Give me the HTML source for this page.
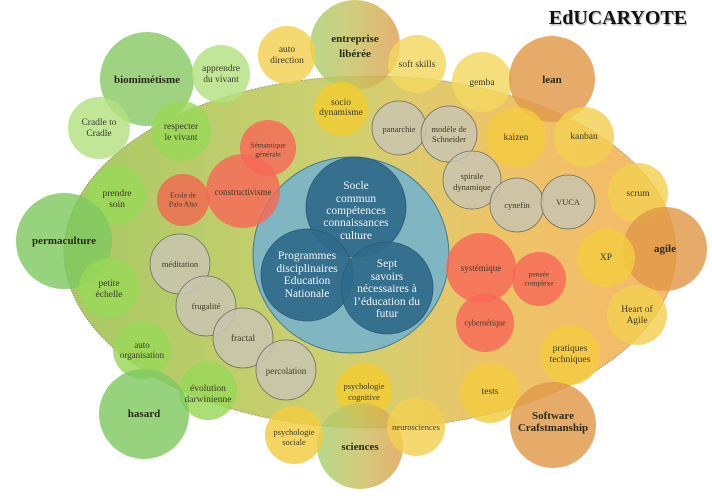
<!DOCTYPE html>
<html><head><meta charset="utf-8"><style>
html,body{margin:0;padding:0;background:#fff;}
svg{display:block;}
text{font-family:"Liberation Serif",serif;text-anchor:middle;dominant-baseline:central;}
</style></head><body>
<svg width="712" height="503" viewBox="0 0 712 503" xmlns="http://www.w3.org/2000/svg">
<defs>
<linearGradient id="bg" x1="0" x2="1" y1="0" y2="0">
<stop offset="0" stop-color="#a6c964"/><stop offset="0.45" stop-color="#cfd070"/><stop offset="0.7" stop-color="#edc468"/><stop offset="1" stop-color="#f5b86a"/></linearGradient>
<linearGradient id="go" x1="0" x2="1" y1="0" y2="0">
<stop offset="0" stop-color="#a8d070"/><stop offset="0.5" stop-color="#c8c060"/><stop offset="1" stop-color="#e0a050"/></linearGradient>
</defs>
<ellipse cx="370" cy="252" rx="306" ry="176" fill="url(#bg)" stroke="#a09a60" stroke-width="1" stroke-dasharray="1.5,1"/>
<circle cx="351" cy="255" r="98" fill="#7fb6c2" stroke="#4a7888" stroke-width="1"/>
<g fill="#2f6a8a" fill-opacity="0.92" stroke="#2a5a74" stroke-width="0.8">
<circle cx="356" cy="207" r="50"/><circle cx="307" cy="275" r="46"/><circle cx="387" cy="288" r="46"/></g>
<g fill="#eef2f4" font-size="11.5">
<text x="356" y="186">Socle</text><text x="356" y="199">commun</text><text x="356" y="211">compétences</text><text x="356" y="223">connaissances</text><text x="356" y="236">culture</text>
<text x="307" y="256">Programmes</text><text x="307" y="269">disciplinaires</text><text x="307" y="281">Education</text><text x="307" y="294">Nationale</text>
<text x="387" y="264">Sept</text><text x="387" y="277">savoirs</text><text x="387" y="289">nécessaires à</text><text x="387" y="302">l’éducation du</text><text x="387" y="314">futur</text>
</g>
<g fill-opacity="0.82">
<circle cx="355" cy="45" r="45" fill="url(#go)"/>
<circle cx="147" cy="79" r="47" fill="#8ac865"/>
<circle cx="221" cy="74" r="29" fill="#b4e080"/>
<circle cx="287" cy="55" r="29" fill="#f3d050"/>
<circle cx="417" cy="64" r="29" fill="#f3d860"/>
<circle cx="482" cy="82" r="30" fill="#f3d860"/>
<circle cx="552" cy="79" r="43" fill="#e09848"/>
<circle cx="99" cy="128" r="31" fill="#b4e080"/>
<circle cx="181" cy="131" r="30" fill="#98d858"/>
<circle cx="341" cy="109" r="27" fill="#f3cc30"/>
<circle cx="516" cy="137" r="30" fill="#f3cc40"/>
<circle cx="584" cy="137" r="30" fill="#f3d050"/>
<circle cx="268" cy="148" r="28" fill="#f86858"/>
<circle cx="243" cy="191" r="37" fill="#f86858"/>
<circle cx="183" cy="200" r="26" fill="#f06850"/>
<circle cx="117" cy="195" r="29" fill="#98d858"/>
<circle cx="638" cy="193" r="30" fill="#f3d050"/>
<circle cx="64" cy="241" r="48" fill="#80c860"/>
<circle cx="665" cy="249" r="42" fill="#e09848"/>
<circle cx="481" cy="268" r="35" fill="#f86858"/>
<circle cx="539" cy="279" r="27" fill="#f86858"/>
<circle cx="606" cy="258" r="29" fill="#f3cc40"/>
<circle cx="109" cy="288" r="30" fill="#98d858"/>
<circle cx="485" cy="323" r="29" fill="#f86858"/>
<circle cx="637" cy="315" r="30" fill="#f3d050"/>
<circle cx="142" cy="350" r="29" fill="#98d858"/>
<circle cx="570" cy="355" r="30" fill="#f3cc40"/>
<circle cx="364" cy="391" r="28" fill="#f3cc30"/>
<circle cx="208" cy="391" r="29" fill="#98d858"/>
<circle cx="490" cy="393" r="30" fill="#f3cc40"/>
<circle cx="144" cy="414" r="45" fill="#80c860"/>
<circle cx="553" cy="425" r="43" fill="#e09848"/>
<circle cx="360" cy="446" r="43" fill="url(#go)"/>
<circle cx="294" cy="435" r="29" fill="#f3cc40"/>
<circle cx="416" cy="427" r="29" fill="#f3d050"/>
</g>
<g fill="#c8c4b0" fill-opacity="0.85" stroke="#707060" stroke-width="0.8">
<circle cx="399" cy="128" r="27"/><circle cx="449" cy="134" r="28"/><circle cx="472" cy="180" r="29"/>
<circle cx="517" cy="205" r="27"/><circle cx="568" cy="202" r="27"/>
<circle cx="180" cy="264" r="30"/><circle cx="206" cy="306" r="30"/><circle cx="243" cy="338" r="30"/><circle cx="286" cy="370" r="30"/>
</g>
<g fill="#3a3a2a" font-size="9.5">
<text x="221" y="69">apprendre</text><text x="221" y="80">du vivant</text>
<text x="287" y="50">auto</text><text x="287" y="61">direction</text>
<text x="417" y="65">soft skills</text>
<text x="482" y="83">gemba</text>
<text x="99" y="123">Cradle to</text><text x="99" y="134">Cradle</text>
<text x="181" y="127">respecter</text><text x="181" y="138">le vivant</text>
<text x="341" y="103">socio</text><text x="341" y="113">dynamisme</text>
<text x="399" y="129" font-size="8.5">panarchie</text>
<text x="449" y="129" font-size="8.5">modèle de</text><text x="449" y="139" font-size="8.5">Schneider</text>
<text x="516" y="138">kaizen</text><text x="584" y="137">kanban</text>
<text x="268" y="145" font-size="7.5">Sémantique</text><text x="268" y="154" font-size="7.5">générale</text>
<text x="243" y="192" font-size="9">constructivisme</text>
<text x="183" y="195" font-size="7.5">Ecole de</text><text x="183" y="204" font-size="7.5">Palo Alto</text>
<text x="117" y="194">prendre</text><text x="117" y="205">soin</text>
<text x="472" y="176" font-size="8.5">spirale</text><text x="472" y="187" font-size="8.5">dynamique</text>
<text x="517" y="205" font-size="8.5">cynefin</text><text x="568" y="202" font-size="8.5">VUCA</text>
<text x="638" y="194">scrum</text>
<text x="180" y="264" font-size="8.5">méditation</text>
<text x="481" y="268" font-size="9">systémique</text>
<text x="539" y="274" font-size="7.5">pensée</text><text x="539" y="283" font-size="7.5">complexe</text>
<text x="606" y="258">XP</text>
<text x="109" y="284">petite</text><text x="109" y="295">échelle</text>
<text x="206" y="306" font-size="8.5">frugalité</text>
<text x="485" y="323" font-size="8">cybernétique</text>
<text x="637" y="310">Heart of</text><text x="637" y="321">Agile</text>
<text x="243" y="339">fractal</text>
<text x="142" y="345" font-size="9">auto</text><text x="142" y="355" font-size="9">organisation</text>
<text x="286" y="371" font-size="9">percolation</text>
<text x="570" y="349">pratiques</text><text x="570" y="360">techniques</text>
<text x="364" y="386" font-size="8.5">psychologie</text><text x="364" y="397" font-size="8.5">cognitive</text>
<text x="208" y="389">évolution</text><text x="208" y="400">darwinienne</text>
<text x="490" y="392">tests</text>
<text x="294" y="432" font-size="8.5">psychologie</text><text x="294" y="442" font-size="8.5">sociale</text>
<text x="416" y="427" font-size="8.5">neurosciences</text>
</g>
<g fill="#2a2a1a" font-size="11" font-weight="bold">
<text x="355" y="39">entreprise</text><text x="355" y="54">libérée</text>
<text x="147" y="80">biomimétisme</text>
<text x="552" y="80">lean</text>
<text x="64" y="241">permaculture</text>
<text x="665" y="249">agile</text>
<text x="144" y="414">hasard</text>
<text x="553" y="416">Software</text><text x="553" y="428">Crafstmanship</text>
<text x="360" y="447">sciences</text>
</g>
<text x="618" y="18" font-size="20" font-weight="bold" fill="#777" opacity="0.5" dx="1" dy="1.5">EdUCARYOTE</text>
<text x="618" y="18" font-size="20" font-weight="bold" fill="#111">EdUCARYOTE</text>
</svg>
</body></html>
